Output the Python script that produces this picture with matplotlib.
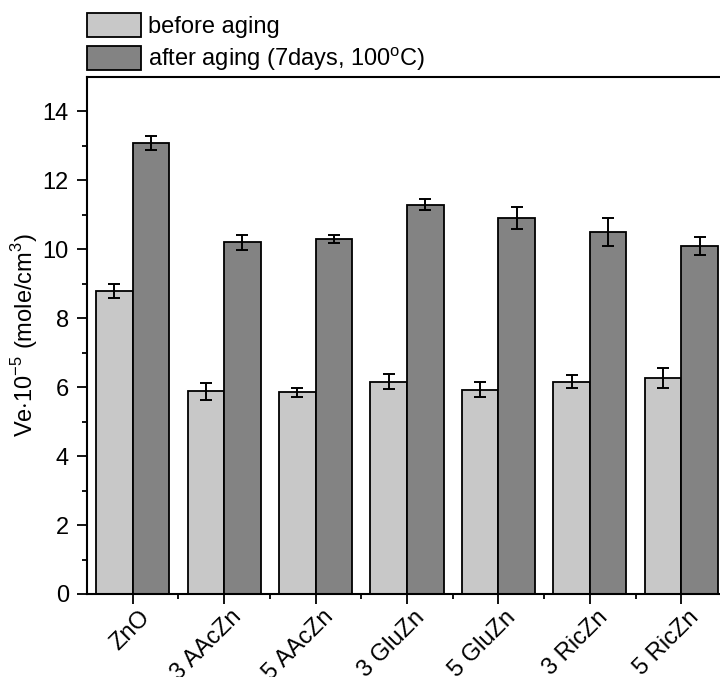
import matplotlib
matplotlib.use("Agg")
import matplotlib.pyplot as plt
import matplotlib.transforms as mtransforms
from matplotlib.patches import Patch
import numpy as np

plt.rcParams['font.family'] = ['Liberation Sans', 'DejaVu Sans']
plt.rcParams['mathtext.fontset'] = 'custom'
plt.rcParams['mathtext.rm'] = 'Liberation Sans'

#   Dati
samples = ["ZnO", "3 AAcZn", "5 AAcZn", "3 GluZn", "5 GluZn", "3 RicZn", "5 RicZn"]
before = [8.79, 5.88, 5.85, 6.16, 5.93, 6.16, 6.26]
before_err = [0.19, 0.25, 0.13, 0.21, 0.22, 0.18, 0.29]
after = [13.08, 10.20, 10.30, 11.30, 10.90, 10.51, 10.10]
after_err = [0.21, 0.23, 0.13, 0.16, 0.32, 0.40, 0.25]
labels = ["before aging", "after aging (7days, 100$^{\\rm o}$C)"]

c_before = "#c8c8c8"
c_after = "#838383"
fs = 17

fig = plt.figure(figsize=(7.2, 6.77), dpi=100)
ax = fig.add_axes([87/720, 83/677, 640/720, 517/677])

x = np.arange(len(samples))
w = 0.4
err_kw = dict(ecolor="black", elinewidth=1.4, capsize=4, capthick=1.4)
ax.bar(x - w/2, before, w, yerr=before_err, color=c_before, edgecolor="black", linewidth=1.3, error_kw=err_kw)
ax.bar(x + w/2, after, w, yerr=after_err, color=c_after, edgecolor="black", linewidth=1.3, error_kw=err_kw)

ax.set_xlim(-0.5, 6.5)
ax.set_ylim(0, 15)
ax.set_yticks(np.arange(0, 15, 2))
ax.set_yticks(np.arange(1, 15, 2), minor=True)
ax.set_xticks(x)
ax.set_xticks(x[:-1] + 0.5, minor=True)

ax.tick_params(axis="both", which="major", direction="out", length=7, width=1.3, labelsize=fs, color="black")
ax.tick_params(axis="both", which="minor", direction="out", length=3.6, width=1.3)
ax.tick_params(axis="x", which="major", pad=6)
ax.tick_params(axis="y", which="major", pad=6)
for s in ["left", "bottom", "top", "right"]:
    ax.spines[s].set_linewidth(1.5)

ax.set_xticklabels(samples, rotation=45, ha="right", va="top")
#   sposto le etichette come nell'originale (Origin)
offset = mtransforms.ScaledTranslation(22/100, 6/100, fig.dpi_scale_trans)
for lab in ax.get_xticklabels():
    lab.set_transform(lab.get_transform() + offset)

ax.set_ylabel("Ve$\\cdot$10$^{-5}$ (mole/cm$^{3}$)", fontsize=fs, labelpad=2)

handles = [Patch(facecolor=c_before, edgecolor="black", linewidth=1.3),
           Patch(facecolor=c_after, edgecolor="black", linewidth=1.3)]
ax.legend(handles, labels, loc="lower left", bbox_to_anchor=(0, 1 + 4/517), frameon=False,
          fontsize=fs, borderpad=0, borderaxespad=0, handlelength=54/23.6, handleheight=27/23.6,
          handletextpad=0.28, labelspacing=0.3)

fig.savefig("out.png", dpi=100)
